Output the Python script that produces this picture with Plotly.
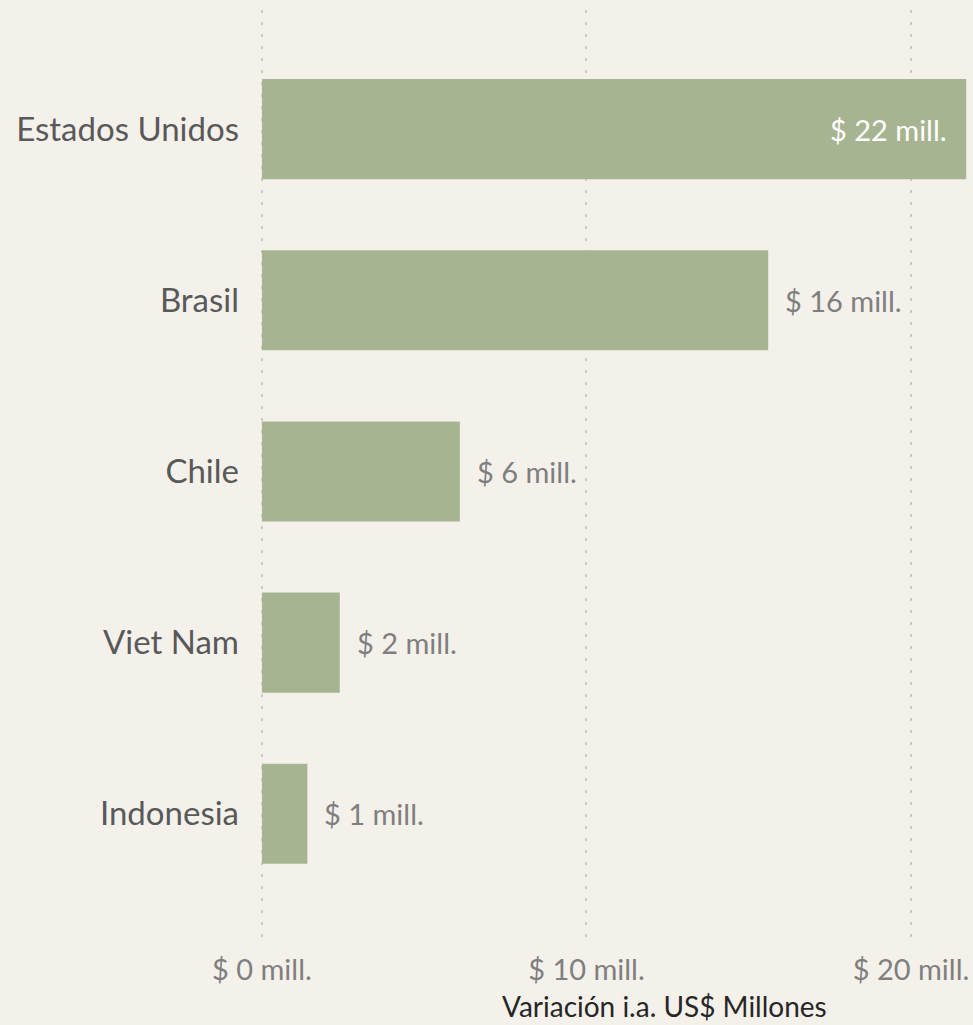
import plotly.graph_objects as go

categories = ["Estados Unidos", "Brasil", "Chile", "Viet Nam", "Indonesia"]
values = [21.7, 15.6, 6.1, 2.4, 1.4]
labels = ["$ 22 mill.", "$ 16 mill.", "$ 6 mill.", "$ 2 mill.", "$ 1 mill."]
tick_vals = [0, 10, 20]
tick_text = ["$ 0 mill.", "$ 10 mill.", "$ 20 mill."]
axis_title = "Variación i.a. US$ Millones"

BG = "#f4f1eb"
BAR = "#a7b491"
FONT = "Lato, 'Open Sans', sans-serif"

fig = go.Figure()
fig.add_trace(go.Bar(
    x=values, y=categories, orientation="h",
    marker=dict(color=BAR, line=dict(width=0)),
    width=0.585, hoverinfo="skip",
))

annotations = []
for i, (v, lab) in enumerate(zip(values, labels)):
    inside = i == 0
    annotations.append(dict(
        x=v, y=categories[i], xref="x", yref="y", text=lab, showarrow=False,
        xanchor="right" if inside else "left",
        xshift=-17 if inside else 15,
        font=dict(family=FONT, size=29, color="#ffffff" if inside else "#7f7f7f"),
    ))
annotations.append(dict(
    x=0.568, y=0, xref="paper", yref="paper", yanchor="middle", yshift=-64,
    text=axis_title, showarrow=False,
    font=dict(family=FONT, size=28, color="#262626"),
))

fig.update_layout(
    width=973, height=1025,
    margin=dict(l=259, r=0, t=10, b=83),
    paper_bgcolor=BG, plot_bgcolor=BG,
    showlegend=False,
    annotations=annotations,
    xaxis=dict(
        range=[-0.09, 21.91], tickvals=tick_vals, ticktext=tick_text,
        showgrid=True, gridcolor="#cdcac4", gridwidth=2, griddash="3px,9px",
        zeroline=False, showline=False, ticks="",
        tickfont=dict(family=FONT, size=29, color="#7f7f7f"),
        ticklabelstandoff=8,
    ),
    yaxis=dict(
        range=[4.749, -0.696], showgrid=False, zeroline=False, showline=False,
        ticks="", ticklabelstandoff=19,
        tickfont=dict(family=FONT, size=33, color="#595959"),
    ),
)

fig.write_html(
    "out.html",
    config={"displayModeBar": False},
    post_script="document.body.style.margin='0';document.body.style.background='" + BG + "';",
)
